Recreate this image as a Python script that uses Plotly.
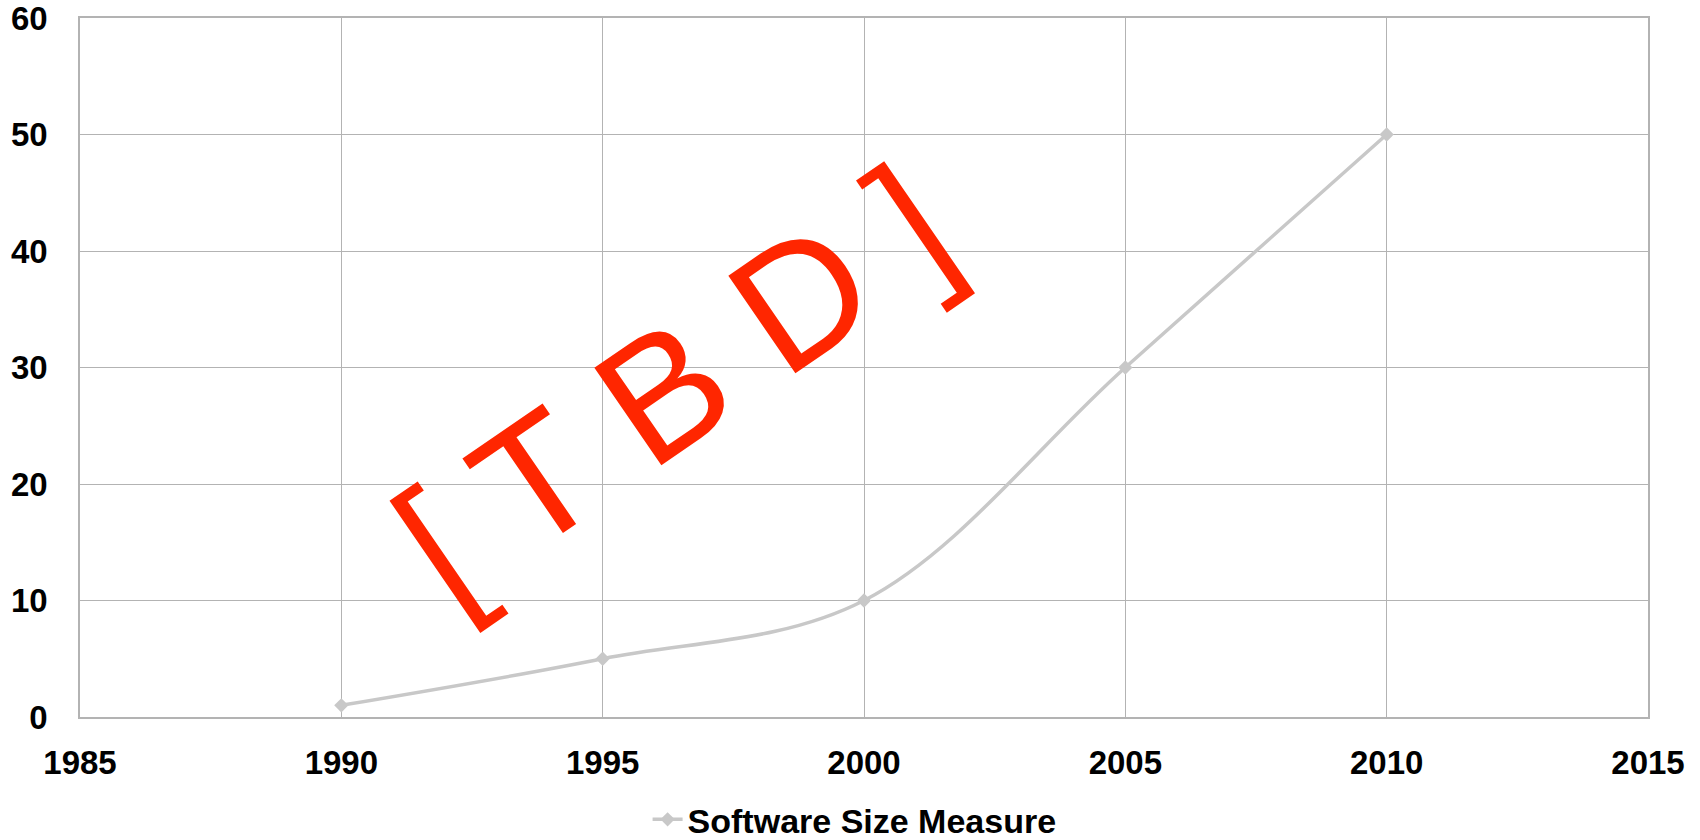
import plotly.graph_objects as go

# Software size over time
years = [1990, 1995, 2000, 2005, 2010]
size_measure = [1, 5, 10, 30, 50]
series_name = "Software Size Measure"

x_ticks = [1985, 1990, 1995, 2000, 2005, 2010, 2015]
y_ticks = [0, 10, 20, 30, 40, 50, 60]

stamp_text = "[ T B D ]"
stamp_pos = (1996.36, 28.6)

grid_color = "#B3B3B3"
line_color = "#C8C8C8"
tick_font = dict(family="Liberation Sans, Arial, sans-serif", size=33,
                 color="#000000", weight="bold")

fig = go.Figure()
fig.add_trace(go.Scatter(
    x=years, y=size_measure, name=series_name,
    mode="lines+markers",
    line=dict(color=line_color, width=3.5, shape="spline", smoothing=1.0),
    marker=dict(symbol="diamond", size=11, color=line_color),
    showlegend=True,
))

# Diagonal placeholder stamp across the plot
fig.add_annotation(
    x=stamp_pos[0], y=stamp_pos[1], xref="x", yref="y",
    text=stamp_text, showarrow=False, textangle=-34.5,
    font=dict(family="Liberation Sans, Arial, sans-serif", size=172, color="#FF2600"),
    xanchor="center", yanchor="middle",
)

axis_common = dict(
    showgrid=True, gridcolor=grid_color, gridwidth=1,
    showline=True, linecolor=grid_color, linewidth=1.5, mirror=True,
    zeroline=False, ticks="", tickfont=tick_font, automargin=False,
    ticklabeloverflow="allow",
)

fig.update_xaxes(range=[1985, 2015], tickvals=x_ticks,
                 ticktext=[str(v) for v in x_ticks],
                 ticklabelstandoff=16, **axis_common)
fig.update_yaxes(range=[0, 60], tickvals=y_ticks,
                 ticktext=[str(v) for v in y_ticks],
                 ticklabelstandoff=24, **axis_common)

fig.update_layout(
    width=1700, height=840,
    margin=dict(l=80, r=52, t=18, b=123, autoexpand=False),
    paper_bgcolor="white", plot_bgcolor="white",
    hovermode=False,
    legend=dict(
        orientation="h", x=0.494, xanchor="center", y=-0.147, yanchor="middle",
        font=dict(family="Liberation Sans, Arial, sans-serif", size=34,
                  color="#000000", weight="bold"),
        itemwidth=30,
    ),
)

fig.write_html("out.html")
